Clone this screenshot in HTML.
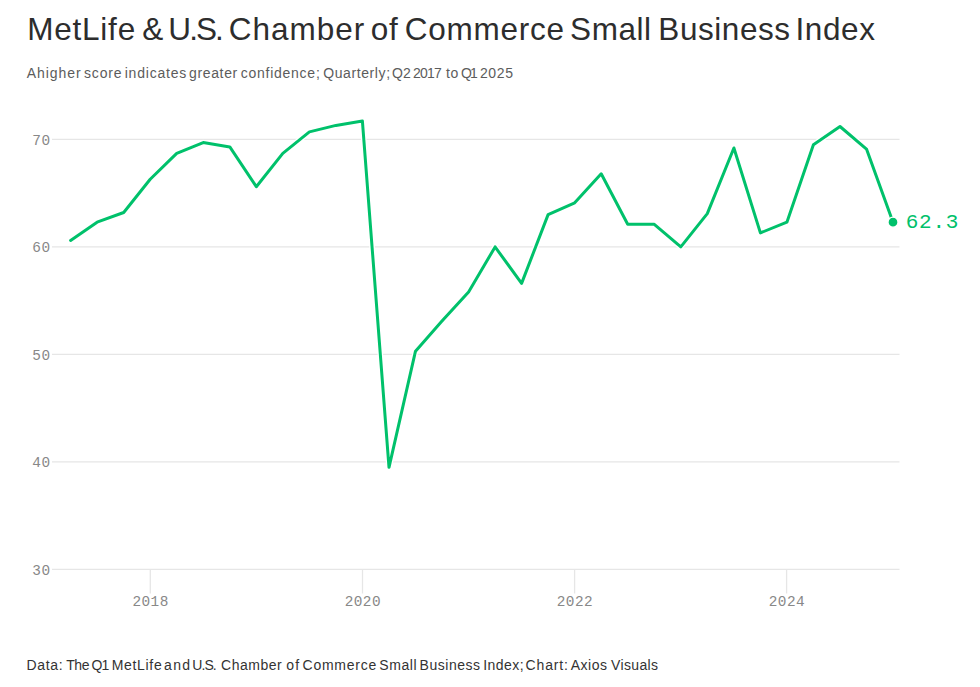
<!DOCTYPE html>
<html><head><meta charset="utf-8"><style>
html,body{margin:0;padding:0;background:#fff;width:980px;height:687px;overflow:hidden}
body{position:relative;font-family:"Liberation Sans",Arial,sans-serif}
.w{position:absolute;white-space:nowrap}
.tw{top:9.1px;font-size:31.5px;color:#2d2d2d;line-height:40px}
.sw{top:63px;font-size:14px;color:#5c5c5c;line-height:20px}
.fw{top:655px;font-size:14px;color:#333;line-height:20px}
h1{margin:0;font-weight:normal;font-size:31.5px}
svg{position:absolute;left:0;top:0}
.g{stroke:#e6e6e6;stroke-width:1.3}
.yl,.xl{font-family:"Liberation Mono",monospace;font-size:14.4px;letter-spacing:0.45px;fill:#888;stroke:#fff;stroke-width:3;paint-order:stroke}
.vl{font-family:"Liberation Mono",monospace;font-size:21px;fill:#00c16b;letter-spacing:0.75px;stroke:#fff;stroke-width:3;paint-order:stroke}
</style></head><body>
<h1>
<span class="w tw" style="left:27.2px;letter-spacing:0.78px">MetLife</span>
<span class="w tw" style="left:142.2px;letter-spacing:0.00px">&amp;</span>
<span class="w tw" style="left:168.3px;letter-spacing:-1.90px">U.S.</span>
<span class="w tw" style="left:228.8px;letter-spacing:0.98px">Chamber</span>
<span class="w tw" style="left:370.8px;letter-spacing:0.60px">of</span>
<span class="w tw" style="left:404.8px;letter-spacing:0.73px">Commerce</span>
<span class="w tw" style="left:570.1px;letter-spacing:0.55px">Small</span>
<span class="w tw" style="left:658.3px;letter-spacing:0.57px">Business</span>
<span class="w tw" style="left:795.5px;letter-spacing:0.60px">Index</span>
</h1>
<div>
<span class="w sw" style="left:26.7px;letter-spacing:0.00px">A</span>
<span class="w sw" style="left:36.9px;letter-spacing:0.98px">higher</span>
<span class="w sw" style="left:84.1px;letter-spacing:0.78px">score</span>
<span class="w sw" style="left:124.7px;letter-spacing:0.80px">indicates</span>
<span class="w sw" style="left:189.0px;letter-spacing:0.65px">greater</span>
<span class="w sw" style="left:240.7px;letter-spacing:0.75px">confidence;</span>
<span class="w sw" style="left:323.2px;letter-spacing:0.60px">Quarterly;</span>
<span class="w sw" style="left:391.9px;letter-spacing:0.10px">Q2</span>
<span class="w sw" style="left:413.0px;letter-spacing:-0.77px">2017</span>
<span class="w sw" style="left:446.0px;letter-spacing:0.70px">to</span>
<span class="w sw" style="left:460.9px;letter-spacing:-1.70px">Q1</span>
<span class="w sw" style="left:479.9px;letter-spacing:0.63px">2025</span>
</div>
<svg width="980" height="687" viewBox="0 0 980 687">
<line x1="52" x2="899.5" y1="139.4" y2="139.4" class="g"/>
<text x="50.5" y="144.5" class="yl" text-anchor="end">70</text>
<line x1="52" x2="899.5" y1="246.9" y2="246.9" class="g"/>
<text x="50.5" y="252.0" class="yl" text-anchor="end">60</text>
<line x1="52" x2="899.5" y1="354.4" y2="354.4" class="g"/>
<text x="50.5" y="359.5" class="yl" text-anchor="end">50</text>
<line x1="52" x2="899.5" y1="461.9" y2="461.9" class="g"/>
<text x="50.5" y="467.0" class="yl" text-anchor="end">40</text>
<line x1="52" x2="899.5" y1="569.4" y2="569.4" class="g"/>
<text x="50.5" y="574.5" class="yl" text-anchor="end">30</text>
<line x1="150.3" x2="150.3" y1="569.4" y2="593.5" class="g"/>
<text x="150.6" y="606.0" class="xl" text-anchor="middle">2018</text>
<line x1="362.5" x2="362.5" y1="569.4" y2="593.5" class="g"/>
<text x="362.8" y="606.0" class="xl" text-anchor="middle">2020</text>
<line x1="574.6" x2="574.6" y1="569.4" y2="593.5" class="g"/>
<text x="574.9" y="606.0" class="xl" text-anchor="middle">2022</text>
<line x1="786.6" x2="786.6" y1="569.4" y2="593.5" class="g"/>
<text x="786.9" y="606.0" class="xl" text-anchor="middle">2024</text>
<polyline points="70.6,240.4 97.1,222.2 123.7,212.5 150.2,179.2 176.7,153.4 203.2,142.6 229.8,146.9 256.3,186.7 282.8,153.4 309.4,131.9 335.9,125.4 362.4,121.1 389.0,467.3 415.5,351.2 442.0,321.1 468.6,292.1 495.1,246.9 521.6,283.4 548.1,214.6 574.7,202.8 601.2,173.8 627.7,224.3 654.3,224.3 680.8,246.9 707.3,213.6 733.9,148.0 760.4,232.9 786.9,222.2 813.4,144.8 840.0,126.5 866.5,149.1 893.0,222.2" fill="none" stroke="#fff" stroke-width="5.5" stroke-linejoin="round" stroke-linecap="round"/>
<polyline points="70.6,240.4 97.1,222.2 123.7,212.5 150.2,179.2 176.7,153.4 203.2,142.6 229.8,146.9 256.3,186.7 282.8,153.4 309.4,131.9 335.9,125.4 362.4,121.1 389.0,467.3 415.5,351.2 442.0,321.1 468.6,292.1 495.1,246.9 521.6,283.4 548.1,214.6 574.7,202.8 601.2,173.8 627.7,224.3 654.3,224.3 680.8,246.9 707.3,213.6 733.9,148.0 760.4,232.9 786.9,222.2 813.4,144.8 840.0,126.5 866.5,149.1 893.0,222.2" fill="none" stroke="#00c16b" stroke-width="3" stroke-linejoin="round" stroke-linecap="round"/>
<circle cx="893.0" cy="222.2" r="5" fill="#00c16b" stroke="#fff" stroke-width="1.3"/>
<text x="905.7" y="228.2" class="vl">62.3</text>
</svg>
<div>
<span class="w fw" style="left:26.6px;letter-spacing:0.65px">Data:</span>
<span class="w fw" style="left:66.3px;letter-spacing:-0.50px">The</span>
<span class="w fw" style="left:91.6px;letter-spacing:-0.90px">Q1</span>
<span class="w fw" style="left:111.7px;letter-spacing:0.68px">MetLife</span>
<span class="w fw" style="left:164.1px;letter-spacing:1.25px">and</span>
<span class="w fw" style="left:192.3px;letter-spacing:-0.93px">U.S.</span>
<span class="w fw" style="left:221.1px;letter-spacing:0.50px">Chamber</span>
<span class="w fw" style="left:286.2px;letter-spacing:1.30px">of</span>
<span class="w fw" style="left:302.5px;letter-spacing:0.77px">Commerce</span>
<span class="w fw" style="left:379.2px;letter-spacing:0.62px">Small</span>
<span class="w fw" style="left:419.5px;letter-spacing:0.54px">Business</span>
<span class="w fw" style="left:483.2px;letter-spacing:0.46px">Index;</span>
<span class="w fw" style="left:525.6px;letter-spacing:0.82px">Chart:</span>
<span class="w fw" style="left:570.7px;letter-spacing:0.50px">Axios</span>
<span class="w fw" style="left:611.1px;letter-spacing:0.33px">Visuals</span>
</div>
</body></html>
